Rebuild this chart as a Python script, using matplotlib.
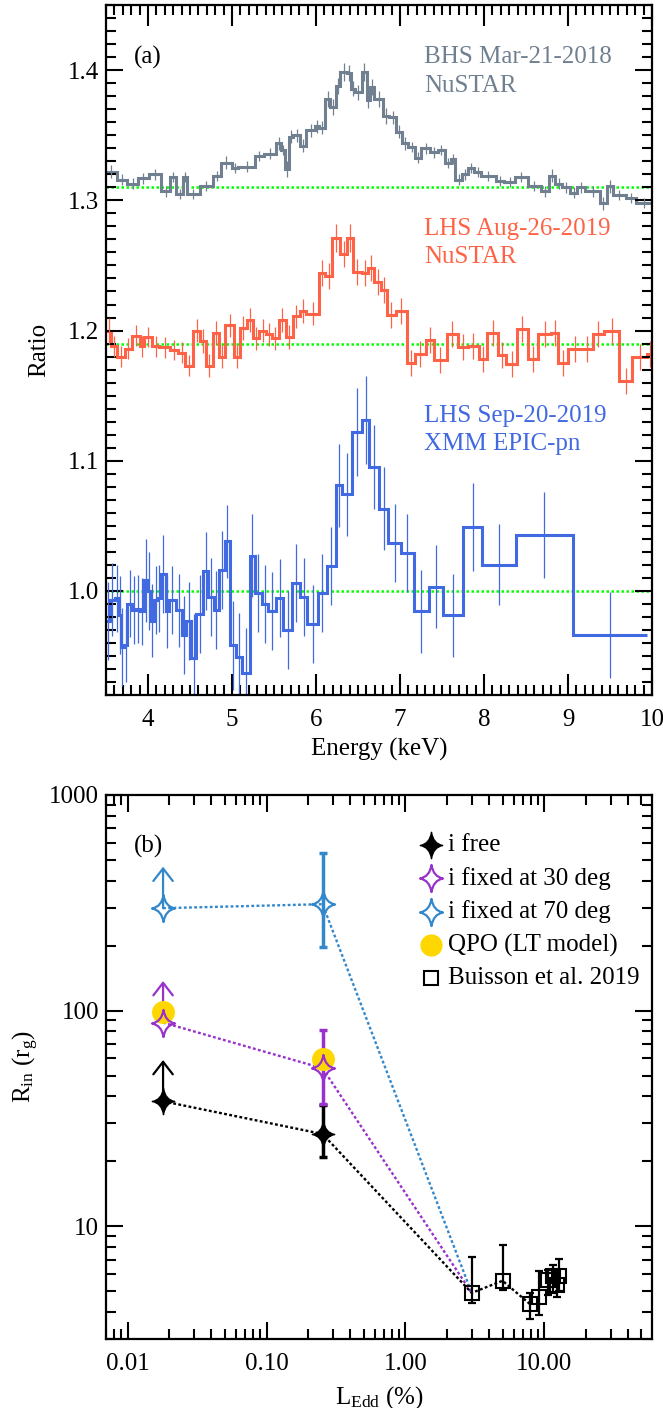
import numpy as np
import matplotlib
matplotlib.use('Agg')
from matplotlib import pyplot as plt
from matplotlib.path import Path
from matplotlib.ticker import MultipleLocator, LogLocator, FuncFormatter, NullFormatter

plt.rcParams['font.family'] = ['Liberation Serif', 'DejaVu Serif']
plt.rcParams['mathtext.fontset'] = 'custom'
plt.rcParams['mathtext.rm'] = 'Liberation Serif'
plt.rcParams['mathtext.it'] = 'Liberation Serif:italic'
plt.rcParams['mathtext.bf'] = 'Liberation Serif:bold'

# ---- panel (a): data/model ratios (bin edges in keV) ----
bhs_edges = [3.500, 3.627, 3.754, 3.880, 4.007, 4.159, 4.261, 4.337, 4.413, 4.463,
             4.616, 4.768, 4.869, 4.996, 5.072, 5.275, 5.376, 5.528, 5.579, 5.630,
             5.681, 5.731, 5.807, 5.883, 5.985, 6.035, 6.112, 6.162, 6.238, 6.289,
             6.365, 6.416, 6.467, 6.543, 6.603, 6.644, 6.695, 6.796, 6.872, 6.948,
             7.024, 7.100, 7.177, 7.253, 7.354, 7.455, 7.531, 7.608, 7.658, 7.734,
             7.810, 7.886, 7.962, 8.140, 8.241, 8.368, 8.520, 8.672, 8.774, 8.850,
             8.926, 9.027, 9.104, 9.205, 9.382, 9.458, 9.534, 9.687, 9.813, 10.000]
bhs_ratio = [1.322, 1.316, 1.313, 1.317, 1.320, 1.307, 1.318, 1.305, 1.318, 1.305,
             1.311, 1.319, 1.329, 1.325, 1.326, 1.334, 1.336, 1.344, 1.339, 1.324,
             1.349, 1.350, 1.342, 1.354, 1.357, 1.356, 1.378, 1.372, 1.388, 1.399,
             1.398, 1.386, 1.383, 1.399, 1.377, 1.387, 1.378, 1.365, 1.364, 1.353,
             1.344, 1.341, 1.333, 1.340, 1.337, 1.339, 1.329, 1.332, 1.316, 1.320,
             1.325, 1.322, 1.319, 1.315, 1.314, 1.318, 1.311, 1.307, 1.319, 1.313,
             1.310, 1.306, 1.310, 1.307, 1.298, 1.311, 1.304, 1.302, 1.298]
bhs_err = [0.005, 0.004, 0.004, 0.004, 0.004, 0.004, 0.004, 0.004, 0.004, 0.004,
           0.004, 0.004, 0.005, 0.004, 0.004, 0.004, 0.004, 0.005, 0.004, 0.006,
           0.005, 0.005, 0.005, 0.005, 0.005, 0.005, 0.006, 0.006, 0.006, 0.007,
           0.006, 0.006, 0.006, 0.007, 0.006, 0.006, 0.006, 0.006, 0.005, 0.005,
           0.005, 0.004, 0.004, 0.004, 0.004, 0.004, 0.004, 0.004, 0.004, 0.004,
           0.004, 0.004, 0.004, 0.004, 0.004, 0.004, 0.004, 0.004, 0.005, 0.004,
           0.004, 0.004, 0.004, 0.004, 0.005, 0.005, 0.004, 0.004, 0.004]

aug_edges = [3.500, 3.561, 3.627, 3.728, 3.804, 3.906, 3.956, 4.048, 4.134, 4.261,
             4.362, 4.438, 4.540, 4.616, 4.692, 4.768, 4.844, 4.920, 5.021, 5.097,
             5.173, 5.249, 5.326, 5.402, 5.478, 5.554, 5.640, 5.721, 5.807, 5.883,
             6.035, 6.112, 6.188, 6.289, 6.365, 6.441, 6.543, 6.619, 6.695, 6.771,
             6.847, 6.948, 7.085, 7.177, 7.303, 7.405, 7.557, 7.684, 7.810, 7.937,
             8.039, 8.165, 8.267, 8.394, 8.520, 8.647, 8.799, 8.885, 9.002, 9.154,
             9.291, 9.433, 9.611, 9.763, 9.940, 10.000]
aug_ratio = [1.200, 1.188, 1.180, 1.186, 1.196, 1.188, 1.195, 1.188, 1.187, 1.185,
             1.183, 1.173, 1.200, 1.192, 1.173, 1.198, 1.180, 1.204, 1.180, 1.202,
             1.208, 1.194, 1.200, 1.197, 1.194, 1.208, 1.195, 1.211, 1.215, 1.213,
             1.244, 1.242, 1.271, 1.259, 1.271, 1.245, 1.244, 1.248, 1.237, 1.231,
             1.212, 1.215, 1.175, 1.182, 1.193, 1.177, 1.197, 1.187, 1.188, 1.178,
             1.198, 1.181, 1.174, 1.201, 1.178, 1.197, 1.198, 1.175, 1.186, 1.186,
             1.197, 1.200, 1.161, 1.180, 1.182]
aug_err = [0.010, 0.008, 0.008, 0.008, 0.008, 0.008, 0.008, 0.008, 0.008, 0.008,
           0.008, 0.008, 0.009, 0.009, 0.009, 0.009, 0.009, 0.009, 0.009, 0.009,
           0.009, 0.009, 0.009, 0.009, 0.009, 0.009, 0.009, 0.009, 0.009, 0.009,
           0.010, 0.010, 0.011, 0.010, 0.011, 0.010, 0.010, 0.010, 0.010, 0.010,
           0.010, 0.010, 0.010, 0.010, 0.010, 0.010, 0.010, 0.010, 0.010, 0.010,
           0.010, 0.010, 0.010, 0.010, 0.010, 0.010, 0.010, 0.010, 0.010, 0.010,
           0.010, 0.010, 0.010, 0.010, 0.010]

sep_edges = [3.500, 3.541, 3.601, 3.652, 3.677, 3.713, 3.754, 3.804, 3.855, 3.906,
             3.956, 3.997, 4.032, 4.068, 4.109, 4.149, 4.210, 4.251, 4.327, 4.398,
             4.453, 4.514, 4.575, 4.656, 4.717, 4.783, 4.844, 4.910, 4.971, 5.047,
             5.123, 5.209, 5.275, 5.351, 5.427, 5.528, 5.604, 5.716, 5.807, 5.894,
             6.025, 6.127, 6.238, 6.314, 6.431, 6.543, 6.634, 6.745, 6.862, 7.009,
             7.161, 7.344, 7.516, 7.749, 7.978, 8.378, 9.058, 9.940]
sep_ratio = [0.977, 0.993, 0.994, 0.981, 0.957, 0.958, 0.990, 0.985, 0.986, 0.984,
             1.008, 1.000, 0.977, 0.993, 0.994, 1.013, 0.984, 0.993, 0.985, 0.966,
             0.977, 0.948, 0.982, 1.015, 0.995, 0.985, 1.016, 1.038, 0.958, 0.949,
             0.937, 1.027, 0.998, 0.990, 0.984, 0.994, 0.970, 1.006, 0.995, 0.974,
             0.998, 1.019, 1.081, 1.074, 1.122, 1.131, 1.095, 1.063, 1.037, 1.029,
             0.984, 1.003, 0.981, 1.049, 1.020, 1.043, 0.966]
sep_err = [0.030, 0.028, 0.026, 0.030, 0.030, 0.028, 0.026, 0.026, 0.026, 0.026,
           0.032, 0.030, 0.028, 0.026, 0.026, 0.030, 0.028, 0.026, 0.028, 0.030,
           0.030, 0.034, 0.030, 0.030, 0.030, 0.030, 0.030, 0.028, 0.034, 0.034,
           0.034, 0.032, 0.030, 0.030, 0.030, 0.030, 0.030, 0.030, 0.030, 0.030,
           0.030, 0.030, 0.032, 0.032, 0.034, 0.034, 0.032, 0.032, 0.030, 0.030,
           0.032, 0.032, 0.032, 0.034, 0.031, 0.033, 0.033]

baselines = [1.31, 1.19, 1.0]

# ---- panel (b): inner radius vs Eddington fraction ----
lhs_ledd = [0.018, 0.253]
free_rin = [38.0, 26.8]
i30_rin = [88.0, 54.0]
i70_rin = [298.0, 311.0]
qpo_rin = [98.0, 59.7]
# lower limits at the faintest epoch (arrow tips)
free_lim = 59.0
i30_lim = 137.0
i70_lim = 464.0
# error ranges at the second epoch
free_range = [21.0, 36.5]
i30_range = [36.9, 81.5]
i70_range = [196.0, 535.0]

buisson_ledd = [3.0, 5.0, 7.87, 9.18, 10.7, 11.6, 12.8, 12.3]
buisson_rin = [4.92, 5.6, 4.37, 4.69, 5.66, 5.87, 5.9, 5.37]
buisson_hi = [7.2, 8.2, 4.92, 6.19, 6.3, 6.6, 7.1, 6.2]
buisson_lo = [4.42, 5.1, 3.72, 3.9, 4.8, 4.9, 5.0, 4.7]

GRAY = '#708090'
RED = '#FF6347'
BLUE = '#4169E1'
GREEN = '#00FF00'
PURPLE = '#9932CC'
SKY = '#3388CC'
GOLD = '#FFD700'
FS = 18

fig = plt.figure(figsize=(6.63, 14.08), dpi=100)
ax1 = fig.add_axes([0.160, 0.5066, 0.8235, 0.4896])
ax2 = fig.add_axes([0.160, 0.0488, 0.8235, 0.3868])

for edges, vals, errs, col in [(bhs_edges, bhs_ratio, bhs_err, GRAY),
                               (aug_edges, aug_ratio, aug_err, RED),
                               (sep_edges, sep_ratio, sep_err, BLUE)]:
    e = np.array(edges)
    mid = 0.5 * (e[:-1] + e[1:])
    ax1.errorbar(mid, vals, yerr=errs, fmt='none', ecolor=col, elinewidth=0.9)
    ax1.stairs(vals, e, baseline=None, color=col, lw=2.2)

for b in baselines:
    ax1.axhline(b, color=GREEN, ls=(0, (1.0, 1.0)), lw=1.8, zorder=0)

ax1.set_xlim(3.5, 10)
ax1.set_ylim(0.92, 1.45)
ax1.xaxis.set_major_locator(MultipleLocator(1))
ax1.xaxis.set_minor_locator(MultipleLocator(0.1))
ax1.yaxis.set_major_locator(MultipleLocator(0.1))
ax1.yaxis.set_minor_locator(MultipleLocator(0.01))
ax1.yaxis.set_major_formatter(FuncFormatter(lambda v, p: '%.1f' % v))
ax1.tick_params(which='both', direction='in', top=True, right=True, width=1.5,
                labelsize=FS)
ax1.tick_params(axis='x', which='major', length=15, pad=10)
ax1.tick_params(axis='x', which='minor', length=7.5)
ax1.tick_params(axis='y', which='major', length=12.5, pad=5)
ax1.tick_params(axis='y', which='minor', length=7.5)
ax1.set_xlabel('Energy (keV)', fontsize=FS)
ax1.set_ylabel('Ratio', fontsize=FS)
ax1.xaxis.set_label_coords(0.5, -0.062)
ax1.yaxis.set_label_coords(-0.103, 0.5)

ax1.text(0.0513, 0.9243, '(a)', transform=ax1.transAxes, fontsize=FS, va='center')
for txt, yy, col in [('BHS Mar-21-2018', 0.9159, GRAY), ('NuSTAR', 0.8747, GRAY),
                     ('LHS Aug-26-2019', 0.6668, RED), ('NuSTAR', 0.6258, RED),
                     ('LHS Sep-20-2019', 0.396, BLUE), ('XMM EPIC-pn', 0.355, BLUE)]:
    ax1.text(0.5824, yy, txt, transform=ax1.transAxes, fontsize=FS, color=col,
             va='baseline')

# ---- panel (b) ----
# four-point star with concave sides
c = 0.13
w = 0.85
star = Path([(0, 1), (c, c), (w, 0), (c, -c), (0, -1), (-c, -c), (-w, 0), (-c, c),
             (0, 1), (0, 1)],
            [Path.MOVETO, Path.CURVE3, Path.CURVE3, Path.CURVE3, Path.CURVE3,
             Path.CURVE3, Path.CURVE3, Path.CURVE3, Path.CURVE3, Path.CLOSEPOLY])

dash = (0, (1.2, 1.0))
ax2.plot(lhs_ledd + [buisson_ledd[0]], i70_rin + [buisson_rin[0]], color=SKY,
         ls=dash, lw=1.7, zorder=1)
ax2.plot(lhs_ledd + [buisson_ledd[0]], i30_rin + [buisson_rin[0]], color=PURPLE,
         ls=dash, lw=1.7, zorder=1)
ax2.plot(lhs_ledd + buisson_ledd[:3], free_rin + buisson_rin[:3], color='k',
         ls=dash, lw=1.7, zorder=1)

arrow = '->,head_length=0.45,head_width=0.35'
for base, tip, col in [(free_rin[0], free_lim, 'k'), (i30_rin[0], i30_lim, PURPLE),
                       (i70_rin[0], i70_lim, SKY)]:
    ax2.annotate('', xy=(lhs_ledd[0], tip), xytext=(lhs_ledd[0], base),
                 arrowprops=dict(arrowstyle=arrow, color=col, lw=1.6,
                                 mutation_scale=20, shrinkA=0, shrinkB=0), zorder=2)

for y, rng, col in [(free_rin[1], free_range, 'k'), (i30_rin[1], i30_range, PURPLE),
                    (i70_rin[1], i70_range, SKY)]:
    ax2.errorbar([lhs_ledd[1]], [y], yerr=[[y - rng[0]], [rng[1] - y]], fmt='none',
                 ecolor=col, elinewidth=2.5, capsize=2.8, capthick=2.5, zorder=2)

ax2.plot(lhs_ledd, qpo_rin, 'o', color=GOLD, ms=16.5, mec='none', zorder=3)
ax2.plot(lhs_ledd, free_rin, ls='none', marker=star, ms=19, color='k', mec='k',
         zorder=4)
ax2.plot(lhs_ledd, i30_rin, ls='none', marker=star, ms=19.5, mfc='none', mec=PURPLE,
         mew=1.6, zorder=4)
ax2.plot(lhs_ledd, i70_rin, ls='none', marker=star, ms=19.5, mfc='none', mec=SKY,
         mew=1.6, zorder=4)

by = np.array(buisson_rin)
ax2.errorbar(buisson_ledd, buisson_rin,
             yerr=[by - np.array(buisson_lo), np.array(buisson_hi) - by],
             fmt='none', ecolor='k', elinewidth=1.6, capsize=2.8, capthick=1.6,
             zorder=3)
ax2.plot(buisson_ledd, buisson_rin, 's', ms=9.5, mfc='none', mec='k', mew=1.5,
         zorder=4)

ax2.set_xscale('log')
ax2.set_yscale('log')
ax2.set_xlim(0.007, 59.6)
ax2.set_ylim(3.0, 1000)
ax2.xaxis.set_major_locator(LogLocator(base=10, numticks=10))
ax2.xaxis.set_minor_locator(LogLocator(base=10, subs=np.arange(2, 10), numticks=10))
ax2.xaxis.set_major_formatter(FuncFormatter(lambda v, p: '%.2f' % v))
ax2.xaxis.set_minor_formatter(NullFormatter())
ax2.yaxis.set_major_locator(LogLocator(base=10, numticks=10))
ax2.yaxis.set_minor_locator(LogLocator(base=10, subs=np.arange(2, 10), numticks=10))
ax2.yaxis.set_major_formatter(FuncFormatter(lambda v, p: '%d' % round(v)))
ax2.yaxis.set_minor_formatter(NullFormatter())
ax2.tick_params(which='both', direction='in', top=True, right=True, width=1.5,
                labelsize=FS)
ax2.tick_params(which='major', length=12, pad=5)
ax2.tick_params(axis='x', which='major', pad=10)
ax2.tick_params(which='minor', length=7)
ax2.set_xlabel(r'L$_{\mathrm{Edd}}$ (%)', fontsize=FS)
ax2.set_ylabel(r'R$_{\mathrm{in}}$ (r$_{\mathrm{g}}$)', fontsize=FS)
ax2.xaxis.set_label_coords(0.5, -0.082)
ax2.yaxis.set_label_coords(-0.12, 0.5)

ax2.text(0.0513, 0.9045, '(b)', transform=ax2.transAxes, fontsize=FS, va='center')

legend_rows = [0.9076, 0.8464, 0.7851, 0.7239, 0.6627]
legend_labels = ['i free', 'i fixed at 30 deg', 'i fixed at 70 deg',
                 'QPO (LT model)', 'Buisson et al. 2019']
legend_styles = [dict(marker=star, ms=19, color='k', mec='k'),
                 dict(marker=star, ms=19.5, mfc='none', mec=PURPLE, mew=1.6),
                 dict(marker=star, ms=19.5, mfc='none', mec=SKY, mew=1.6),
                 dict(marker='o', ms=16, color=GOLD, mec='none'),
                 dict(marker='s', ms=10, mfc='none', mec='k', mew=1.5)]
for yy, lab, st in zip(legend_rows, legend_labels, legend_styles):
    ax2.plot([0.5945], [yy], ls='none', transform=ax2.transAxes, clip_on=False, **st)
    ax2.text(0.6258, yy, lab, transform=ax2.transAxes, fontsize=FS, va='center')

for ax in (ax1, ax2):
    for s in ax.spines.values():
        s.set_linewidth(1.6)

fig.savefig('out.png', dpi=100)
